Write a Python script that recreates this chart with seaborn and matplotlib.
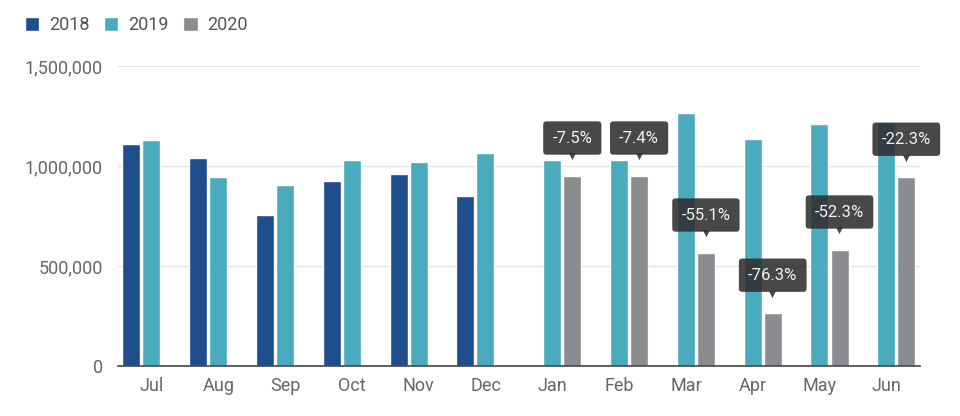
import numpy as np
import pandas as pd
import seaborn as sns
import matplotlib.pyplot as plt

# values
months = ["Jul", "Aug", "Sep", "Oct", "Nov", "Dec",
          "Jan", "Feb", "Mar", "Apr", "May", "Jun"]
years = ["2018", "2019", "2020"]
v2018 = [1113000, 1040000, 757000, 927000, 960000, 853000,
         None, None, None, None, None, None]
v2019 = [1133000, 947000, 907000, 1033000, 1020000, 1067000,
         1033000, 1033000, 1267000, 1138000, 1213000, 1220000]
v2020 = [None, None, None, None, None, None,
         953000, 953000, 568000, 267000, 583000, 947000]
change_labels = ["-7.5%", "-7.4%", "-55.1%", "-76.3%", "-52.3%", "-22.3%"]

colors = ["#1f4e8c", "#4aabbf", "#8a8c8f"]

rows = []
for yr, vals in zip(years, [v2018, v2019, v2020]):
    for m, v in zip(months, vals):
        if v is not None:
            rows.append({"month": m, "year": yr, "value": v})
df = pd.DataFrame(rows)

sns.set_style("white")
plt.rcParams["font.family"] = ["Roboto", "DejaVu Sans"]

fig = plt.figure(figsize=(9.6, 4.16), dpi=100)
ax = fig.add_axes([0.123, 0.12, 0.835, 0.721])

sns.barplot(data=df, x="month", y="value", hue="year", order=months,
            hue_order=years, palette=colors, width=0.9, gap=0.1,
            saturation=1, ax=ax, legend=True)

ax.set_ylim(0, 1500000)
ax.set_xlim(-0.5, 11.5)
ax.set_yticks([0, 500000, 1000000, 1500000])
ax.set_yticklabels([f"{t:,}" for t in [0, 500000, 1000000, 1500000]])
ax.yaxis.grid(True, color="#e4e4e4", linewidth=1)
ax.set_axisbelow(True)
ax.set_xlabel("")
ax.set_ylabel("")
for s in ["top", "right", "left"]:
    ax.spines[s].set_visible(False)
ax.spines["bottom"].set_color("#444444")
ax.spines["bottom"].set_linewidth(1.2)
ax.tick_params(axis="y", length=0, pad=11, labelsize=13, labelcolor="#666666")
ax.tick_params(axis="x", length=0, pad=8, labelsize=13, labelcolor="#666666")

# change labels above the 2020 bars
for bar, lab in zip(ax.containers[2], change_labels):
    x = bar.get_x() + bar.get_width() / 2
    h = bar.get_height()
    ax.annotate(lab, xy=(x, h), xytext=(0, 27), textcoords="offset points",
                ha="center", va="center", fontsize=12, color="#f2f2f2",
                bbox=dict(boxstyle="round,pad=0.55,rounding_size=0.2",
                          fc="#2e2e2e", ec="none", alpha=0.88))
    ax.annotate("▼", xy=(x, h), xytext=(0, 13.5), textcoords="offset points",
                ha="center", va="center", fontsize=6.5, color="#2e2e2e",
                alpha=0.88, family="DejaVu Sans")

handles, labels = ax.get_legend_handles_labels()
ax.legend_.remove()
fig.legend(handles, labels, loc="upper left", bbox_to_anchor=(0.018, 0.978),
           ncol=3, frameon=False, fontsize=13, handlelength=0.8,
           handleheight=0.8, handletextpad=0.55, columnspacing=0.8,
           labelcolor="#555555", borderaxespad=0)

fig.savefig("out.png", dpi=100)
